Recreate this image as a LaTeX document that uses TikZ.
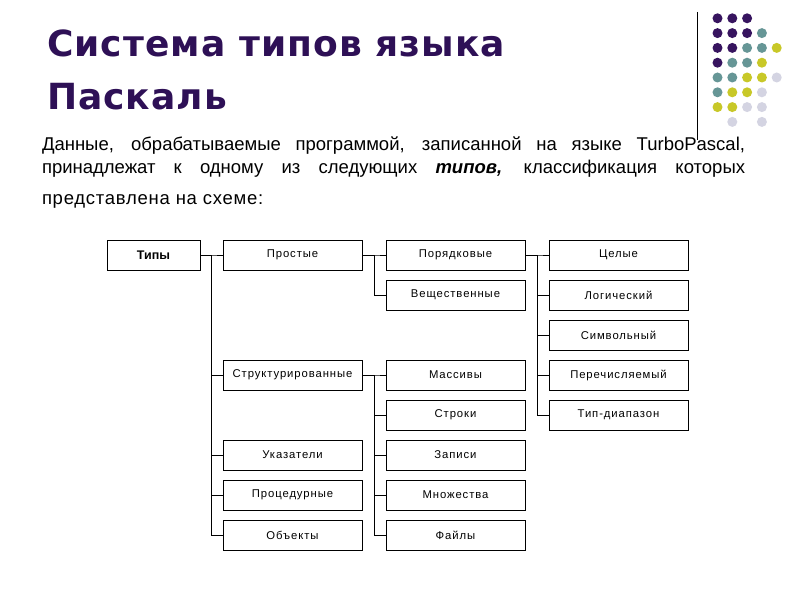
\documentclass[tikz,border=0pt]{standalone}
\usepackage{fontspec}
\setmainfont{Liberation Sans}
\newfontfamily\boxfont[LetterSpace=8]{Liberation Sans}
\newfontfamily\headfont[LetterSpace=3]{DejaVu Sans}
\newfontfamily\widefont[LetterSpace=4]{Liberation Sans}
\usepackage{xcolor}
\usetikzlibrary{positioning}

\begin{document}
\begin{tikzpicture}[x=1pt,y=1pt,
  typebox/.style={draw=black,line width=0.7pt,minimum width=139pt,minimum height=30pt,inner sep=0pt,font=\boxfont\fontsize{11.3}{13}\selectfont},
  link/.style={draw=black,line width=0.7pt},
  para/.style={anchor=base west,inner sep=0pt,outer sep=0pt,font=\fontsize{18.5}{22}\selectfont},
  heading/.style={text=titleColor,anchor=base west,inner sep=0pt,outer sep=0pt,font=\headfont\bfseries\fontsize{36}{42}\selectfont}]
\definecolor{fillColor}{RGB}{255,255,255}
\path[use as bounding box,fill=fillColor] (0,0) rectangle (800,600);
\definecolor{titleColor}{RGB}{46,16,86}
\definecolor{dotA}{RGB}{55,20,95}
\definecolor{dotB}{RGB}{102,150,150}
\definecolor{dotC}{RGB}{200,200,40}
\definecolor{dotD}{RGB}{212,212,226}

% title
\node[heading] (title1) at (47,543) {Система типов языка};
\node[heading] (title2) at (47,490) {Паскаль};

% corner dots
\path[draw=black,line width=0.8pt] (697,588) -- (697,460);
\foreach \c/\r/\col in {0/0/dotA,1/0/dotA,2/0/dotA,
    0/1/dotA,1/1/dotA,2/1/dotA,3/1/dotB,
    0/2/dotA,1/2/dotA,2/2/dotB,3/2/dotB,4/2/dotC,
    0/3/dotA,1/3/dotB,2/3/dotB,3/3/dotC,
    0/4/dotB,1/4/dotB,2/4/dotC,3/4/dotC,4/4/dotD,
    0/5/dotB,1/5/dotC,2/5/dotC,3/5/dotD,
    0/6/dotC,1/6/dotC,2/6/dotD,3/6/dotD,
    1/7/dotD,3/7/dotD}
  \path[fill=\col] ({717.5+14.8*\c},{581.7-14.8*\r}) circle (5);

% text
\node[para] (par1) at (42,449) {\makebox[703pt][s]{Данные, обрабатываемые программой, записанной на языке TurboPascal,}};
\node[para] (par2) at (42,426) {\makebox[703pt][s]{принадлежат к одному из следующих \textbf{\textit{типов,}} классификация которых}};
\node[para,font=\widefont\fontsize{18.5}{22}\selectfont] (par3) at (42,395) {представлена на схеме:};

% scheme
\node[typebox,minimum width=93pt,font=\bfseries\fontsize{12.5}{15}\selectfont] (tipy) at (153.5,345) {Типы};

\node[typebox] (prostye) at (292.5,345) {Простые};
\node[typebox] (struct) at (292.5,225) {Структурированные};
\node[typebox] (ukaz) at (292.5,145) {Указатели};
\node[typebox] (proc) at (292.5,105) {Процедурные};
\node[typebox] (obj) at (292.5,65) {Объекты};

\node[typebox] (poryad) at (455.5,345) {Порядковые};
\node[typebox] (veshch) at (455.5,305) {Вещественные};
\node[typebox] (massiv) at (455.5,225) {Массивы};
\node[typebox] (stroki) at (455.5,185) {Строки};
\node[typebox] (zapisi) at (455.5,145) {Записи};
\node[typebox] (mnozh) at (455.5,105) {Множества};
\node[typebox] (faily) at (455.5,65) {Файлы};

\node[typebox] (celye) at (618.5,345) {Целые};
\node[typebox] (logich) at (618.5,305) {Логический};
\node[typebox] (simv) at (618.5,265) {Символьный};
\node[typebox] (perech) at (618.5,225) {Перечисляемый};
\node[typebox] (diap) at (618.5,185) {Тип-диапазон};

\foreach \child in {prostye,struct,ukaz,proc,obj}
  \draw[link] (tipy.east) -- ++(11,0) |- (\child.west);
\foreach \child in {poryad,veshch}
  \draw[link] (prostye.east) -- ++(12,0) |- (\child.west);
\foreach \child in {massiv,stroki,zapisi,mnozh,faily}
  \draw[link] (struct.east) -- ++(12,0) |- (\child.west);
\foreach \child in {celye,logich,simv,perech,diap}
  \draw[link] (poryad.east) -- ++(12,0) |- (\child.west);
\end{tikzpicture}
\end{document}
